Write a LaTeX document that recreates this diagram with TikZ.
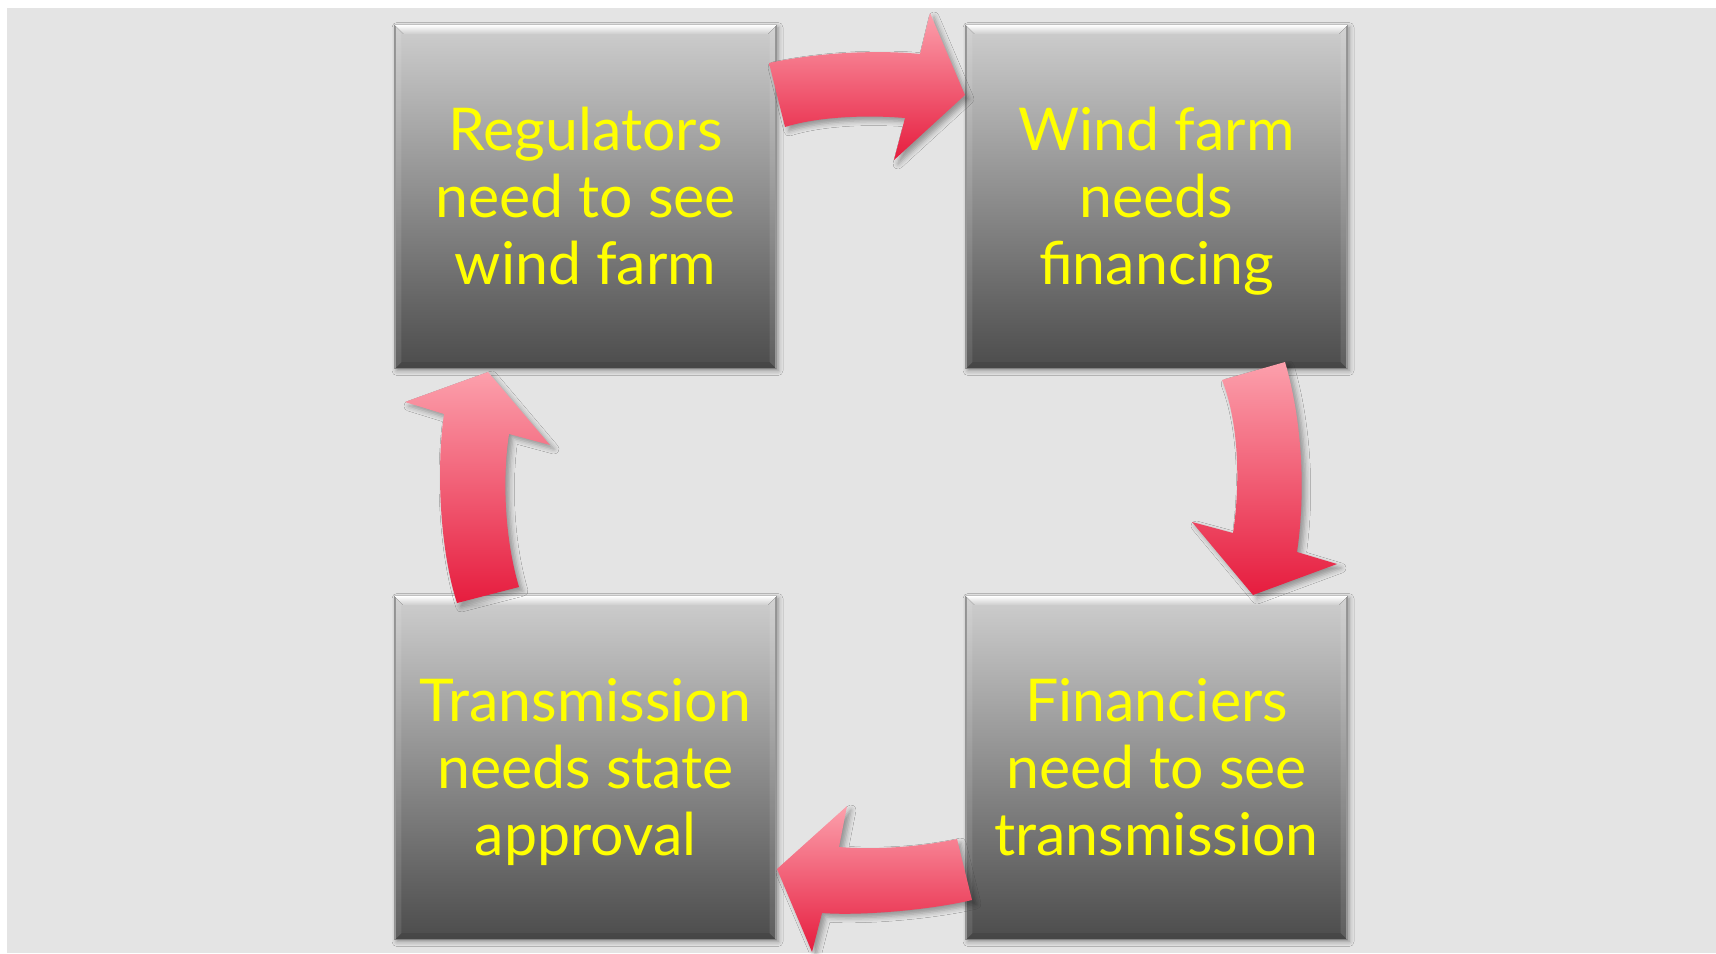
\documentclass[tikz,border=0pt]{standalone}
\usepackage{fontspec}
\setmainfont{Lato}
\usetikzlibrary{shadows.blur,calc}
\definecolor{bggray}{RGB}{228,228,228}
\definecolor{boxtop}{RGB}{206,206,206}
\definecolor{boxbot}{RGB}{76,76,76}
\definecolor{arrtop}{RGB}{252,160,172}
\definecolor{arrbot}{RGB}{230,28,62}
\definecolor{txtyellow}{RGB}{255,255,0}
\newcommand{\boxbevel}[1]{%
 \fill[top color=white, bottom color=boxtop] (#1.north west) -- (#1.north east) -- ($(#1.north east)+(-9,9)$) -- ($(#1.north west)+(9,9)$) -- cycle;
 \fill[black, opacity=0.08] (#1.south west) -- (#1.south east) -- ($(#1.south east)+(-7,-7)$) -- ($(#1.south west)+(7,-7)$) -- cycle;
 \fill[white, opacity=0.10] (#1.north west) -- ($(#1.north west)+(7,9)$) -- ($(#1.south west)+(7,-7)$) -- (#1.south west) -- cycle;
 \fill[white, opacity=0.10] (#1.north east) -- ($(#1.north east)+(-7,9)$) -- ($(#1.south east)+(-7,-7)$) -- (#1.south east) -- cycle;
}
\begin{document}
\begin{tikzpicture}[x=0.5pt,y=-0.5pt,
 box/.style={draw=black!45, line width=0.6pt, minimum width=190.5pt, minimum height=171.5pt, inner sep=0pt,
   top color=boxtop, bottom color=boxbot,
   blur shadow={shadow xshift=1pt, shadow yshift=-1pt, shadow blur radius=2.5pt, shadow opacity=40}},
 lbl/.style={text=txtyellow, align=center, font=\fontsize{29.5}{33.5}\selectfont, inner sep=0pt},
 cyc/.style={top color=arrtop, bottom color=arrbot, draw=none,
   blur shadow={shadow xshift=2pt, shadow yshift=-2pt, shadow blur radius=2.5pt, shadow opacity=35}}]
\useasboundingbox (0,0) rectangle (1716,953);
\fill[white] (0,0) rectangle (1716,953);
\fill[bggray] (7,8) rectangle (1716,953);

% boxes
\node[box] (b1) at (585.5,197) {};
\node[box] (b2) at (1156.5,197) {};
\node[box] (b3) at (1156.5,768) {};
\node[box] (b4) at (585.5,768) {};
\boxbevel{b1}
\boxbevel{b2}
\boxbevel{b3}
\boxbevel{b4}

% labels
\node[lbl] (t1) at ([yshift=-3.5pt]b1.center) {\strut Regulators\\need to see\\wind farm\strut};
\node[lbl] (t2) at ([yshift=-3.5pt]b2.center) {\strut Wind farm\\needs\\financing\strut};
\node[lbl] (t3) at ([yshift=-3.5pt]b3.center) {\strut Financiers\\need to see\\transmission\strut};
\node[lbl] (t4) at ([yshift=-3.5pt]b4.center) {\strut Transmission\\needs state\\approval\strut};

% curved arrows
\path[cyc] (769,63) .. controls (820,52) and (880,50) .. (920,54) -- (930,13) -- (965,95) -- (894,160)
  -- (905,118) .. controls (870,115) and (820,116) .. (785,127) -- cycle;
\path[cyc] (1222,380) -- (1285,362) .. controls (1302,420) and (1306,490) .. (1297,552) -- (1337,564)
  -- (1253,595) -- (1192,522) -- (1233,533) .. controls (1241,480) and (1238,420) .. (1222,380) -- cycle;
\path[cyc] (957,839) -- (972,900) .. controls (930,910) and (860,916) .. (822,913) -- (812,952)
  -- (777,869) -- (847,806) -- (839,847) .. controls (875,850) and (920,847) .. (957,839) -- cycle;
\path[cyc] (457,603) -- (519,587) .. controls (505,540) and (502,480) .. (509,434) -- (550,445)
  -- (488,372) -- (405,402) -- (444,414) .. controls (436,470) and (440,550) .. (457,603) -- cycle;
\end{tikzpicture}
\end{document}
